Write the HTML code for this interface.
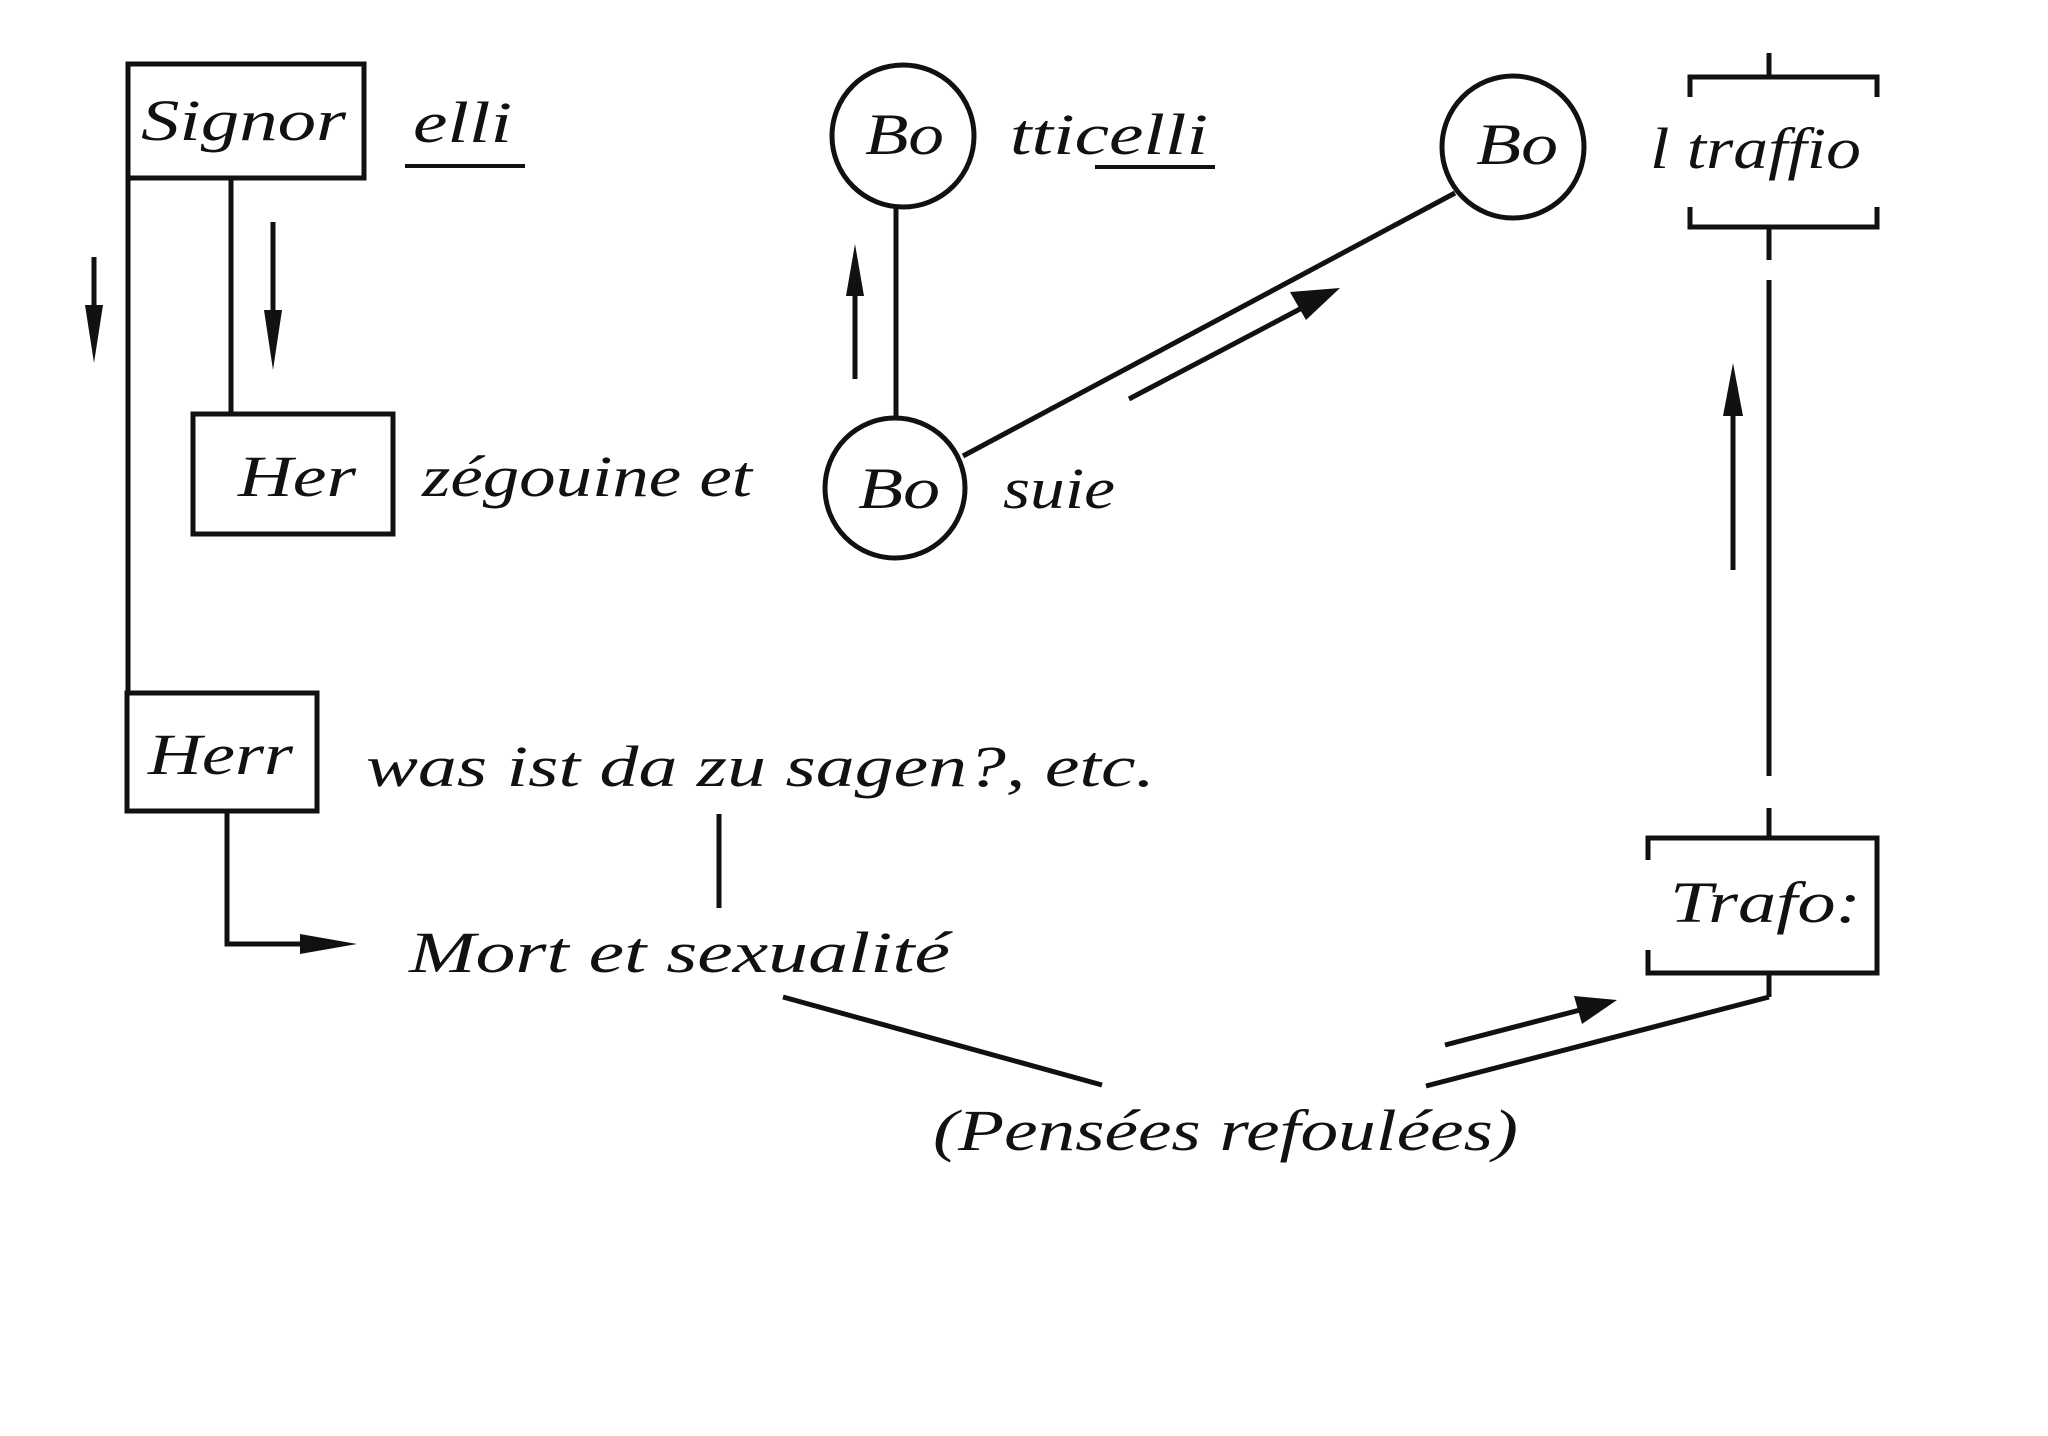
<!DOCTYPE html>
<html><head><meta charset="utf-8"><style>
html,body{margin:0;padding:0;background:#fff;}
svg{display:block}
text{font-family:"Liberation Serif",serif;font-style:italic;fill:#111;}
</style></head><body>
<svg width="2048" height="1436" viewBox="0 0 2048 1436" xmlns="http://www.w3.org/2000/svg">
<g stroke="#111" stroke-width="5" fill="none">
<rect x="128" y="64" width="236" height="114"/>
<line x1="128" y1="178" x2="128" y2="693"/>
<line x1="231" y1="178" x2="231" y2="414"/>
<rect x="193" y="414" width="200" height="120"/>
<rect x="127" y="693" width="190" height="118"/>
<polyline points="227,811 227,944 305,944"/>
<line x1="719" y1="814" x2="719" y2="908"/>
<circle cx="903" cy="136" r="71"/>
<circle cx="895" cy="488" r="70"/>
<circle cx="1513" cy="147" r="71"/>
<line x1="896" y1="207" x2="896" y2="418"/>
<line x1="963" y1="456" x2="1455" y2="193"/>
<polyline points="1690,97 1690,77 1877,77 1877,97"/>
<polyline points="1690,207 1690,227 1877,227 1877,207"/>
<line x1="1769" y1="53" x2="1769" y2="77"/>
<line x1="1769" y1="227" x2="1769" y2="260"/>
<line x1="1769" y1="280" x2="1769" y2="776"/>
<polyline points="1648,860 1648,838 1877,838 1877,973 1648,973 1648,950"/>
<line x1="1769" y1="808" x2="1769" y2="838"/>
<line x1="1769" y1="973" x2="1769" y2="997"/>
<line x1="1769" y1="997" x2="1426" y2="1086"/>
<line x1="783" y1="997" x2="1102" y2="1085"/>
<line x1="94" y1="257" x2="94" y2="330"/>
<line x1="273" y1="222" x2="273" y2="330"/>
<line x1="855" y1="379" x2="855" y2="285"/>
<line x1="1129" y1="399" x2="1300" y2="309"/>
<line x1="1733" y1="570" x2="1733" y2="405"/>
<line x1="1445" y1="1045" x2="1580" y2="1010"/>
</g>
<g fill="#111">
<polygon points="85,305 103,305 94,363"/>
<polygon points="264,310 282,310 273,370"/>
<polygon points="846,296 864,296 855,244"/>
<polygon points="1290,292 1306,320 1340,288"/>
<polygon points="1723,416 1743,416 1733,363"/>
<polygon points="1574,996 1582,1024 1617,1000"/>
<polygon points="300,934 300,954 357,944"/>
<rect x="405" y="164" width="120" height="4"/>
<rect x="1095" y="165" width="120" height="4"/>
</g>
<g font-size="58">
<text x="141" y="140" textLength="205" lengthAdjust="spacingAndGlyphs">Signor</text>
<text x="413" y="142" textLength="99" lengthAdjust="spacingAndGlyphs">elli</text>
<text x="238" y="496" textLength="118" lengthAdjust="spacingAndGlyphs">Her</text>
<text x="422" y="496" textLength="330" lengthAdjust="spacingAndGlyphs">zégouine et</text>
<text x="865" y="154" textLength="79" lengthAdjust="spacingAndGlyphs">Bo</text>
<text x="1010" y="154" textLength="198" lengthAdjust="spacingAndGlyphs">tticelli</text>
<text x="858" y="508" textLength="82" lengthAdjust="spacingAndGlyphs">Bo</text>
<text x="1003" y="508" textLength="112" lengthAdjust="spacingAndGlyphs">suie</text>
<text x="1476" y="164" textLength="82" lengthAdjust="spacingAndGlyphs">Bo</text>
<text x="1650" y="168" textLength="211" lengthAdjust="spacingAndGlyphs">l traffio</text>
<text x="148" y="774" textLength="145" lengthAdjust="spacingAndGlyphs">Herr</text>
<text x="366" y="786" textLength="789" lengthAdjust="spacingAndGlyphs">was ist da zu sagen?, etc.</text>
<text x="409" y="972" textLength="541" lengthAdjust="spacingAndGlyphs">Mort et sexualité</text>
<text x="1670" y="922" textLength="191" lengthAdjust="spacingAndGlyphs">Trafo:</text>
<text x="933" y="1150" textLength="585" lengthAdjust="spacingAndGlyphs">(Pensées refoulées)</text>
</g>
</svg>
</body></html>
